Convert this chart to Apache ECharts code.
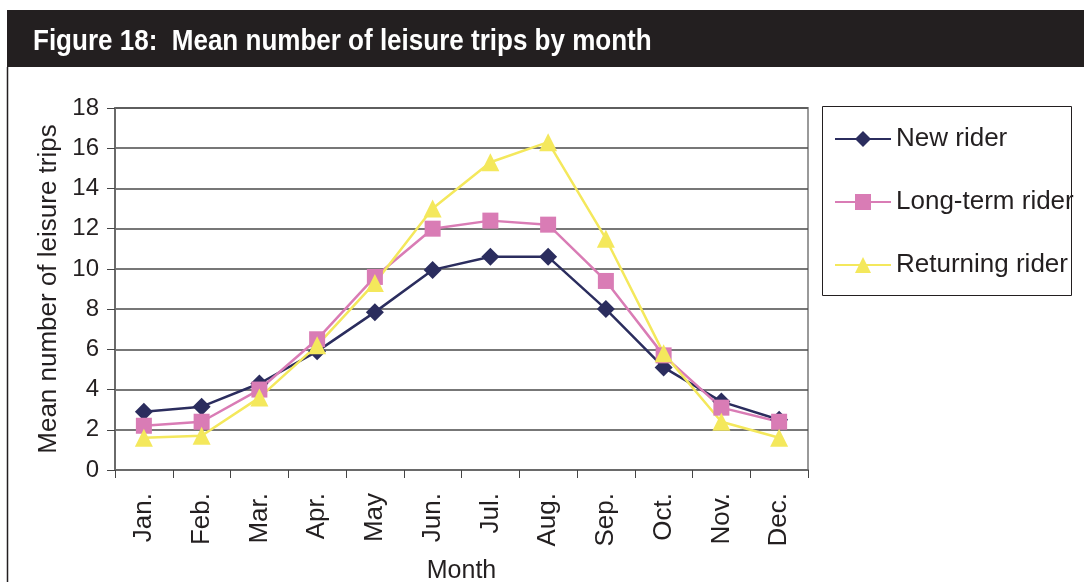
<!DOCTYPE html>
<html>
<head>
<meta charset="utf-8">
<script src="https://cdn.jsdelivr.net/npm/echarts@6/dist/echarts.min.js"></script>
<style>
  html, body { margin: 0; padding: 0; background: #fff; }
  #chart { width: 1084px; height: 582px; }
</style>
</head>
<body>
<div id="chart"></div>
<script>
// months on the x axis
var months = ['Jan.', 'Feb.', 'Mar.', 'Apr.', 'May', 'Jun.', 'Jul.', 'Aug.', 'Sep.', 'Oct.', 'Nov.', 'Dec.'];
// mean leisure trips
var newRider = [2.9, 3.15, 4.3, 5.9, 7.85, 9.95, 10.6, 10.6, 8.0, 5.1, 3.4, 2.5];
var longTerm = [2.2, 2.4, 4.0, 6.5, 9.6, 12.0, 12.4, 12.2, 9.4, 5.7, 3.1, 2.4];
var returning = [1.6, 1.7, 3.6, 6.2, 9.3, 13.0, 15.3, 16.3, 11.5, 5.8, 2.4, 1.6];

var txt = '#231f20';
var chart = echarts.init(document.getElementById('chart'));

var option = {
  animation: false,
  textStyle: { fontFamily: 'Liberation Sans, Arial, sans-serif' },
  graphic: [
    // dark title bar
    { type: 'rect', shape: { x: 7, y: 10, width: 1077, height: 57 }, style: { fill: '#231f20' } },
    // condensed look: squeeze the bold title horizontally
    { type: 'text', x: 33, y: 27, scaleX: 0.897, style: { text: 'Figure 18:  Mean number of leisure trips by month', fill: '#fff', font: 'bold 29px "Liberation Sans", Arial, sans-serif' } },
    // left frame line
    { type: 'line', shape: { x1: 7.5, y1: 67, x2: 7.5, y2: 582 }, style: { stroke: '#231f20', lineWidth: 1.5 } },
    // legend frame (text runs slightly past it, as in the original)
    { type: 'rect', shape: { x: 822.5, y: 106.5, width: 249, height: 189 }, style: { fill: 'none', stroke: txt, lineWidth: 1 } }
  ],
  grid: { left: 115, top: 108, width: 693, height: 362, outerBoundsMode: 'none', show: true, borderColor: '#9a9a9a', borderWidth: 2 },
  legend: {
    orient: 'vertical',
    left: 822, top: 106,
    padding: [20, 0, 0, 12],
    itemGap: 37,
    itemWidth: 56, itemHeight: 20,
    textStyle: { fontSize: 26, color: txt },
    data: ['New rider', 'Long-term rider', 'Returning rider']
  },
  xAxis: {
    type: 'category',
    data: months,
    boundaryGap: true,
    name: 'Month', nameLocation: 'middle', nameGap: 89,
    nameTextStyle: { fontSize: 25, color: txt },
    axisLine: { lineStyle: { color: '#6a6a6a', width: 2 } },
    axisTick: { show: true, length: 8, lineStyle: { color: '#444' } },
    axisLabel: { rotate: 90, fontSize: 26, color: txt, margin: 23, interval: 0 }
  },
  yAxis: {
    type: 'value', min: 0, max: 18, interval: 2,
    name: 'Mean number of leisure trips', nameLocation: 'middle', nameGap: 44,
    nameTextStyle: { fontSize: 26, color: txt },
    axisLine: { show: true, lineStyle: { color: '#6a6a6a', width: 2 } },
    axisTick: { show: true, length: 8, lineStyle: { color: '#444' } },
    axisLabel: { fontSize: 24, color: txt, margin: 16 },
    splitLine: { lineStyle: { color: '#4a4a4a', width: 1.5 } }
  },
  series: [
    {
      name: 'New rider', type: 'line', data: newRider,
      symbol: 'diamond', symbolSize: 18,
      lineStyle: { color: '#2b2d5e', width: 2.5 }, itemStyle: { color: '#2b2d5e' }
    },
    {
      name: 'Long-term rider', type: 'line', data: longTerm,
      symbol: 'rect', symbolSize: 16,
      lineStyle: { color: '#d97cb5', width: 2.5 }, itemStyle: { color: '#d97cb5' }
    },
    {
      name: 'Returning rider', type: 'line', data: returning,
      symbol: 'triangle', symbolSize: 18,
      lineStyle: { color: '#f4e85c', width: 2.5 }, itemStyle: { color: '#f4e85c' }
    }
  ]
};

chart.setOption(option);
</script>
</body>
</html>
